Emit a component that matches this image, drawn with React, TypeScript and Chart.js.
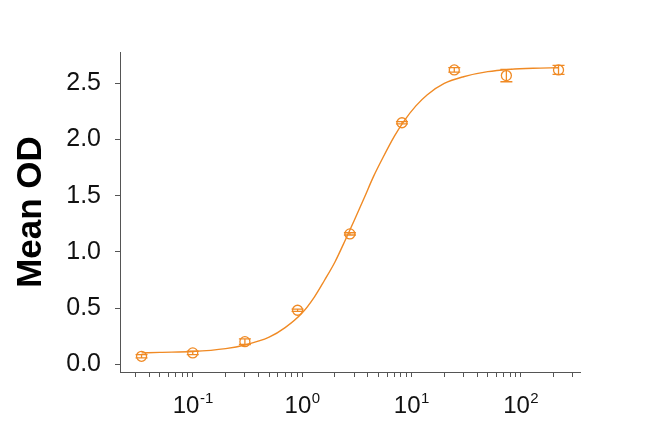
import React, { useEffect, useRef } from "react";
import { Chart, registerables } from "chart.js";

Chart.register(...registerables);

// Concentration (log axis) and measured mean OD
const CONC = [0.034, 0.1, 0.3, 0.91, 2.74, 8.2, 24.7, 74, 222];
const MEAN_OD = [0.07, 0.1, 0.2, 0.48, 1.16, 2.15, 2.62, 2.57, 2.62];
const SD = [0.015, 0.015, 0.025, 0.01, 0.01, 0.01, 0.02, 0.055, 0.04];

// Fitted curve
const CURVE_X = [0.034, 0.05, 0.1, 0.2, 0.3, 0.5, 0.7, 1.0, 1.3, 1.6, 2.0, 2.5, 3.0, 3.7, 4.5, 5.5, 7.0, 8.5, 11, 14, 20, 30, 50, 80, 130, 222];
const CURVE_Y = [0.1, 0.105, 0.112, 0.138, 0.17, 0.24, 0.325, 0.455, 0.6, 0.745, 0.91, 1.11, 1.28, 1.48, 1.67, 1.84, 2.03, 2.16, 2.3, 2.4, 2.5, 2.56, 2.605, 2.625, 2.635, 2.64];

// Axis ticks
const X_TICKS = [
  0.03, 0.04, 0.05, 0.06, 0.07, 0.08, 0.09,
  0.1, 0.2, 0.3, 0.4, 0.5, 0.6, 0.7, 0.8, 0.9,
  1, 2, 3, 4, 5, 6, 7, 8, 9,
  10, 20, 30, 40, 50, 60, 70, 80, 90,
  100, 200, 300,
];
const X_LABEL_VALUES = [0.1, 1, 10, 100];
const X_LABEL_BASE = ["10", "10", "10", "10"];
const X_LABEL_EXP = ["-1", "0", "1", "2"];
const Y_TICKS = [0, 0.5, 1.0, 1.5, 2.0, 2.5];

const ORANGE = "#F08A24";
const AXIS = "#555555";
const FONT = "'Liberation Sans', Arial, sans-serif";

const errorBars = {
  id: "errorBars",
  afterDatasetsDraw(chart: any) {
    const { ctx, scales } = chart;
    const xs = scales.x;
    const ys = scales.y;
    ctx.save();
    ctx.strokeStyle = ORANGE;
    ctx.lineWidth = 1.3;
    for (let i = 0; i < CONC.length; i++) {
      const px = xs.getPixelForValue(CONC[i]);
      const lo = ys.getPixelForValue(MEAN_OD[i] - SD[i]);
      const hi = ys.getPixelForValue(MEAN_OD[i] + SD[i]);
      ctx.beginPath();
      ctx.moveTo(px, lo);
      ctx.lineTo(px, hi);
      ctx.moveTo(px - 6, lo);
      ctx.lineTo(px + 6, lo);
      ctx.moveTo(px - 6, hi);
      ctx.lineTo(px + 6, hi);
      ctx.stroke();
    }
    ctx.restore();
  },
};

// Power-of-ten labels with real superscripts
const powerLabels = {
  id: "powerLabels",
  afterDraw(chart: any) {
    const { ctx, scales } = chart;
    const xs = scales.x;
    const base = `24px ${FONT}`;
    const sup = `15px ${FONT}`;
    const baseY = xs.bottom - 16;
    ctx.save();
    ctx.fillStyle = "#111111";
    ctx.textBaseline = "alphabetic";
    ctx.textAlign = "left";
    for (let i = 0; i < X_LABEL_VALUES.length; i++) {
      const px = xs.getPixelForValue(X_LABEL_VALUES[i]);
      ctx.font = base;
      const w1 = ctx.measureText(X_LABEL_BASE[i]).width;
      ctx.font = sup;
      const w2 = ctx.measureText(X_LABEL_EXP[i]).width;
      const start = px - (w1 + w2) / 2;
      ctx.font = base;
      ctx.fillText(X_LABEL_BASE[i], start, baseY);
      ctx.font = sup;
      ctx.fillText(X_LABEL_EXP[i], start + w1 + 0.5, baseY - 10);
    }
    ctx.restore();
  },
};

export default function App() {
  const ref = useRef<HTMLCanvasElement>(null);
  useEffect(() => {
    const chart = new Chart(ref.current!, {
      type: "scatter",
      data: {
        datasets: [
          {
            label: "Mean OD",
            data: CONC.map((x, i) => ({ x, y: MEAN_OD[i] })),
            pointStyle: "circle",
            pointRadius: 5,
            pointBorderWidth: 1.3,
            pointBackgroundColor: "rgba(0,0,0,0)",
            pointBorderColor: ORANGE,
            showLine: false,
          },
          {
            label: "Fit",
            data: CURVE_X.map((x, i) => ({ x, y: CURVE_Y[i] })),
            showLine: true,
            borderColor: ORANGE,
            borderWidth: 1.4,
            pointRadius: 0,
            cubicInterpolationMode: "monotone",
          },
        ],
      },
      options: {
        animation: false,
        responsive: false,
        layout: { padding: { left: 0, top: 52, right: 69, bottom: 0 } },
        plugins: { legend: { display: false }, tooltip: { enabled: false } },
        scales: {
          x: {
            type: "logarithmic",
            min: 0.0216,
            max: 349,
            afterBuildTicks: (s: any) => {
              s.ticks = X_TICKS.map((v) => ({ value: v, major: false }));
            },
            afterFit: (s: any) => {
              s.height = 57;
            },
            border: { display: true, color: AXIS, width: 1 },
            grid: { drawOnChartArea: false, drawTicks: true, tickLength: 5, tickColor: AXIS },
            ticks: { display: false, autoSkip: false, maxRotation: 0 },
          },
          y: {
            type: "linear",
            min: -0.07,
            max: 2.78,
            afterBuildTicks: (s: any) => {
              s.ticks = Y_TICKS.map((v) => ({ value: v }));
            },
            afterFit: (s: any) => {
              s.width = 120;
            },
            border: { display: true, color: AXIS, width: 1 },
            grid: { drawOnChartArea: false, drawTicks: true, tickLength: 5, tickColor: AXIS },
            ticks: {
              padding: 14,
              color: "#111111",
              font: { family: FONT, size: 25 },
              callback: (v: any) => Number(v).toFixed(1),
            },
            title: {
              display: true,
              text: "Mean OD",
              color: "#000000",
              font: { family: FONT, size: 35, weight: "bold", lineHeight: 1 },
              padding: { top: 14, bottom: 0 },
            },
          },
        },
      },
      plugins: [errorBars, powerLabels],
    });
    return () => chart.destroy();
  }, []);
  return (
    <div style={{ position: "fixed", left: 0, top: 0, width: 649, height: 429, background: "#fff" }}>
      <canvas ref={ref} width={649} height={429} />
    </div>
  );
}
